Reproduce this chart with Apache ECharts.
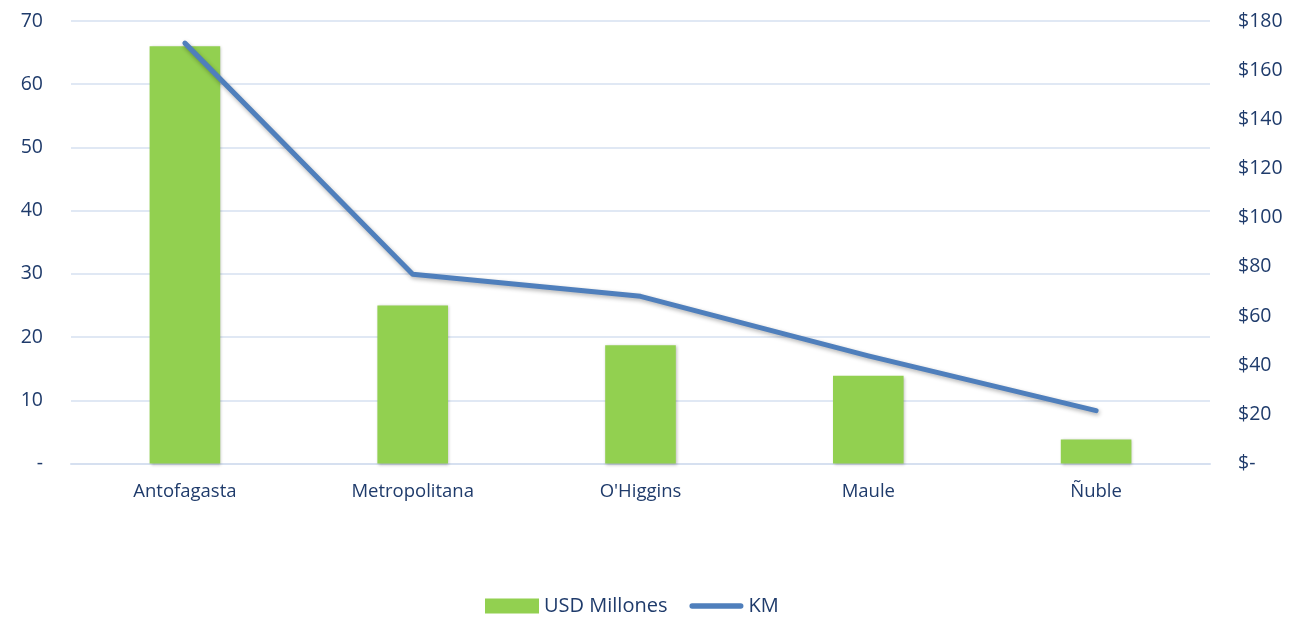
<!DOCTYPE html>
<html><head><meta charset="utf-8">
<script src="https://cdn.jsdelivr.net/npm/echarts@6/dist/echarts.min.js"></script>
<style>html,body{margin:0;padding:0;background:#fff}#c{width:1316px;height:619px}</style>
</head><body><div id="c"></div>
<script>
const categories = ['Antofagasta', 'Metropolitana', "O'Higgins", 'Maule', 'Ñuble'];
const usdMillones = [66, 25, 18.7, 13.9, 3.8];
const km = [171, 77, 68, 43.8, 21.5];
const seriesNames = ['USD Millones', 'KM'];

const txt = '#1f3b6b';
const font = 'Open Sans';
const chart = echarts.init(document.getElementById('c'));
chart.setOption({
  animation: false,
  textStyle: { fontFamily: font },
  grid: { left: 71, right: 106, top: 21, bottom: 155.5, containLabel: false },
  legend: {
    data: [
      { name: seriesNames[0], icon: 'rect' },
      { name: seriesNames[1], icon: 'path://M5,0 H95 A5,5 0 0 1 95,10 H5 A5,5 0 0 1 5,0 Z', itemStyle: { color: '#4f7fbc' } }
    ],
    symbolKeepAspect: true,
    top: 591, left: 480,
    itemWidth: 54, itemHeight: 15, itemGap: 22,
    textStyle: { color: txt, fontSize: 20, fontFamily: font }
  },
  xAxis: {
    type: 'category', data: categories,
    axisLine: { lineStyle: { color: '#d6e0f0', width: 2 } },
    axisTick: { show: false },
    axisLabel: { color: txt, fontSize: 18.5, margin: 19, fontFamily: font }
  },
  yAxis: [
    { type: 'value', min: 0, max: 70, interval: 10,
      axisLine: { show: false }, axisTick: { show: false },
      splitLine: { lineStyle: { color: '#d6e0f0', width: 1.5 } },
      axisLabel: { color: txt, fontSize: 19.5, margin: 28, fontFamily: font,
        formatter: v => v === 0 ? '-' : String(v) } },
    { type: 'value', min: 0, max: 180, interval: 20, position: 'right',
      axisLine: { show: false }, axisTick: { show: false },
      splitLine: { show: false },
      axisLabel: { color: txt, fontSize: 19.5, margin: 28, align: 'left', fontFamily: font,
        formatter: v => v === 0 ? '$-' : '$' + v } }
  ],
  series: [
    { name: seriesNames[0], type: 'bar', yAxisIndex: 0, data: usdMillones,
      barWidth: '31%',
      itemStyle: { color: '#92d050', shadowBlur: 3, shadowColor: 'rgba(0,0,0,0.25)', shadowOffsetX: 1, shadowOffsetY: 1 } },
    { name: seriesNames[1], type: 'line', yAxisIndex: 1, data: km,
      symbol: 'none', showSymbol: false,
      lineStyle: { color: '#4f7fbc', width: 5, cap: 'round', join: 'round',
        shadowBlur: 4, shadowColor: 'rgba(0,0,0,0.3)', shadowOffsetX: 1, shadowOffsetY: 2 },
      itemStyle: { color: '#4f7fbc' } }
  ]
});
</script></body></html>
